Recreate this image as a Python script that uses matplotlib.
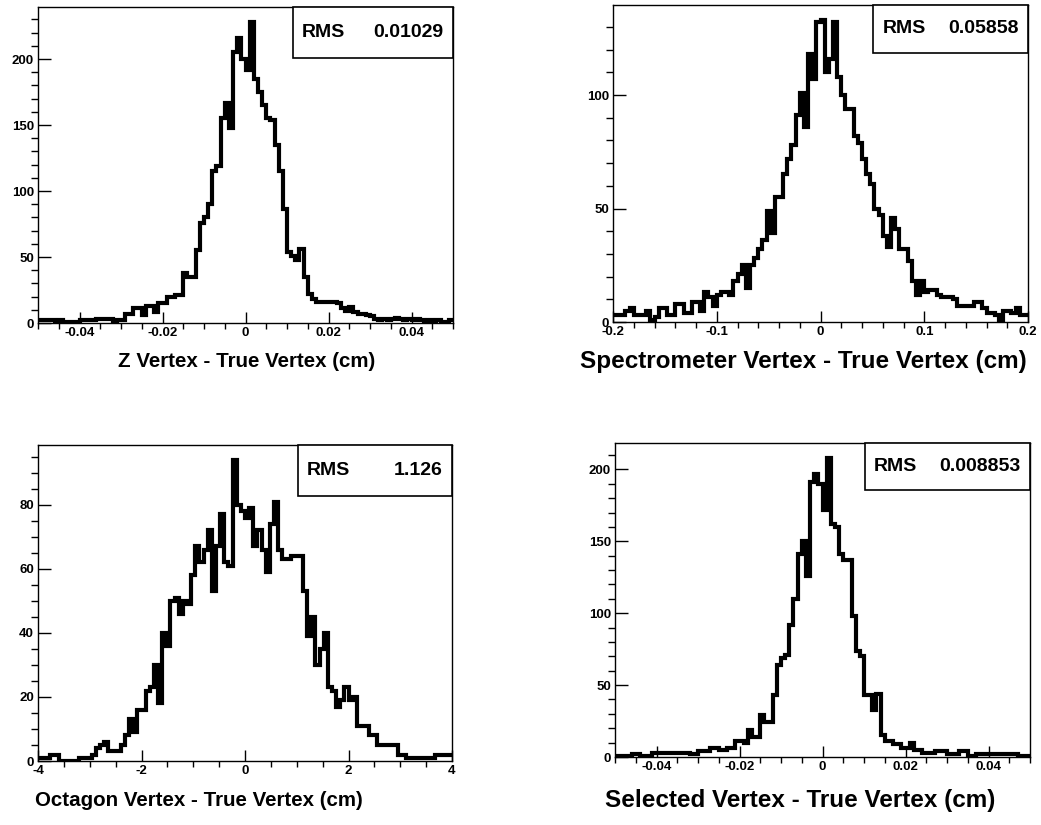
import numpy as np
import matplotlib
matplotlib.use("Agg")
import matplotlib.pyplot as plt
from matplotlib.patches import Rectangle
from matplotlib.ticker import MultipleLocator

plt.rcParams['font.family'] = ['Liberation Sans', 'DejaVu Sans']
plt.rcParams['font.weight'] = 'bold'

# bin contents, 100 bins each
z_counts = [2, 2, 2, 2, 1, 2, 1, 1, 1, 1,
            2, 2, 2, 2, 3, 3, 3, 3, 1, 2,
            2, 7, 7, 11, 11, 6, 13, 13, 8, 15,
            15, 20, 20, 21, 21, 38, 35, 35, 55, 76,
            80, 90, 115, 119, 155, 167, 148, 205, 216, 200,
            192, 228, 185, 175, 165, 155, 154, 135, 115, 86,
            54, 51, 48, 56, 35, 22, 18, 16, 16, 16,
            16, 16, 15, 11, 9, 12, 8, 7, 7, 6,
            5, 3, 2, 3, 2, 3, 4, 3, 2, 3,
            2, 3, 2, 1, 2, 1, 2, 1, 1, 2]

spec_counts = [3, 3, 3, 5, 6, 3, 3, 3, 5, 1,
               2, 6, 6, 3, 3, 8, 8, 4, 4, 9,
               9, 5, 13, 11, 7, 12, 13, 13, 12, 18,
               21, 25, 15, 25, 28, 32, 36, 49, 39, 55,
               55, 65, 72, 78, 91, 101, 86, 118, 107, 132,
               133, 110, 116, 132, 108, 100, 94, 94, 82, 79,
               72, 65, 61, 50, 47, 38, 33, 46, 41, 32,
               32, 27, 18, 12, 18, 13, 14, 14, 12, 11,
               11, 11, 10, 7, 7, 7, 7, 9, 9, 6,
               4, 4, 3, 1, 5, 5, 4, 6, 3, 3]

oct_counts = [1, 1, 1, 2, 2, 0, 0, 0, 0, 0,
              1, 1, 1, 2, 4, 5, 6, 3, 3, 3,
              5, 8, 13, 9, 16, 16, 22, 23, 30, 18,
              40, 36, 50, 51, 46, 50, 49, 58, 67, 62,
              66, 72, 53, 67, 77, 62, 61, 94, 80, 78,
              76, 79, 67, 72, 66, 59, 74, 81, 66, 63,
              63, 64, 64, 64, 53, 39, 45, 30, 35, 40,
              23, 22, 17, 19, 23, 19, 20, 11, 11, 11,
              8, 8, 5, 5, 5, 5, 5, 2, 2, 1,
              1, 1, 1, 1, 1, 1, 2, 2, 2, 2]

sel_counts = [1, 1, 1, 1, 2, 2, 1, 1, 1, 3,
              3, 3, 3, 3, 3, 3, 3, 3, 2, 2,
              4, 4, 4, 6, 6, 5, 5, 6, 6, 11,
              11, 10, 19, 14, 14, 29, 24, 24, 43, 64,
              69, 71, 92, 110, 141, 150, 126, 191, 197, 190,
              172, 208, 162, 160, 141, 137, 137, 98, 74, 70,
              43, 43, 33, 44, 15, 11, 11, 9, 9, 6,
              6, 10, 5, 5, 3, 3, 3, 4, 4, 4,
              2, 2, 2, 4, 4, 1, 1, 2, 2, 2,
              2, 2, 2, 2, 2, 2, 2, 1, 1, 1]

titles = ["Z Vertex - True Vertex (cm)",
          "Spectrometer Vertex - True Vertex (cm)",
          "Octagon Vertex - True Vertex (cm)",
          "Selected Vertex - True Vertex (cm)"]
rms_values = ["0.01029", "0.05858", "1.126", "0.008853"]
x_ranges = [(-0.05, 0.05), (-0.2, 0.2), (-4, 4), (-0.05, 0.05)]

W, H = 1041, 825
fig = plt.figure(figsize=(W / 100, H / 100), dpi=100)

# axes boxes in pixels: left, top, right, bottom
rects = [(38, 7, 453, 323), (613, 5, 1028, 322),
         (38, 445, 452, 761), (615, 443, 1030, 757)]
x_major = [0.02, 0.1, 2, 0.02]
x_minor = [0.005, 0.02, 0.5, 0.005]
y_major = [50, 50, 20, 50]
y_minor = [10, 10, 5, 10]
box_corner = [(0.614, 0.839), (0.627, 0.849), (0.628, 0.839), (0.602, 0.851)]
# title position in pixels (left x, center y) and size
title_pos = [(118, 362, 14.8), (580, 362, 17.5), (35, 800, 14.8), (605, 800, 17.5)]

all_counts = [z_counts, spec_counts, oct_counts, sel_counts]

for i in range(4):
    l, t, r, b = rects[i]
    ax = fig.add_axes([l / W, 1 - b / H, (r - l) / W, (b - t) / H])
    counts = np.array(all_counts[i])
    lo, hi = x_ranges[i]
    edges = np.linspace(lo, hi, len(counts) + 1)
    ax.stairs(counts, edges, color='black', linewidth=3.0, baseline=None)
    ax.set_xlim(lo, hi)
    ax.set_ylim(0, counts.max() * 1.05)

    ax.xaxis.set_major_locator(MultipleLocator(x_major[i]))
    ax.xaxis.set_minor_locator(MultipleLocator(x_minor[i]))
    ax.yaxis.set_major_locator(MultipleLocator(y_major[i]))
    ax.yaxis.set_minor_locator(MultipleLocator(y_minor[i]))
    ax.xaxis.set_major_formatter(plt.FuncFormatter(lambda v, p: "%g" % round(v, 6)))
    ax.tick_params(axis='both', direction='in', labelsize=9.5, width=1,
                   top=False, right=False, pad=3)
    ax.tick_params(axis='y', which='major', length=9)
    ax.tick_params(axis='y', which='minor', length=5, width=1)
    ax.tick_params(axis='x', which='major', length=8)
    ax.tick_params(axis='x', which='minor', length=4, width=1)
    for lab in ax.get_xticklabels() + ax.get_yticklabels():
        lab.set_fontweight('bold')
    for sp in ax.spines.values():
        sp.set_linewidth(1.0)

    x0, y0 = box_corner[i]
    ax.add_patch(Rectangle((x0, y0), 1 - x0, 1 - y0, transform=ax.transAxes,
                           facecolor='white', edgecolor='black', linewidth=1.2,
                           zorder=5, clip_on=False))
    yc = (y0 + 1) / 2
    ax.text(x0 + 0.022, yc, "RMS", transform=ax.transAxes, ha='left', va='center',
            fontsize=14, fontweight='bold', zorder=6)
    ax.text(0.978, yc, rms_values[i], transform=ax.transAxes, ha='right',
            va='center', fontsize=14, fontweight='bold', zorder=6)

    tx, ty, fs = title_pos[i]
    fig.text(tx / W, 1 - ty / H, titles[i], ha='left', va='center',
             fontsize=fs, fontweight='bold')

fig.savefig("out.png", dpi=100)
